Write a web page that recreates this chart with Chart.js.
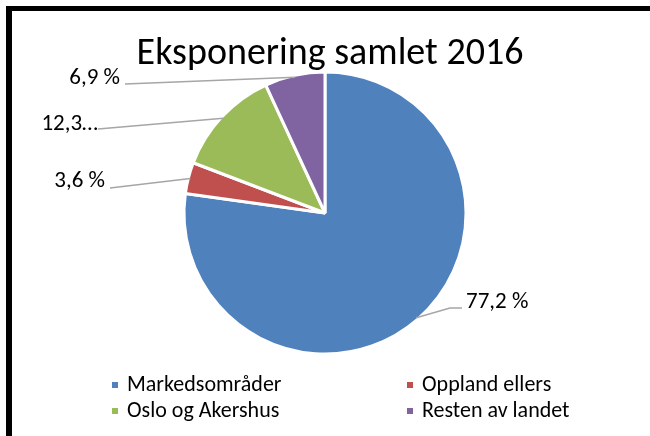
<!DOCTYPE html>
<html>
<head>
<meta charset="utf-8">
<script src="https://cdn.jsdelivr.net/npm/chart.js@4.4.0/dist/chart.umd.min.js"></script>
<style>
  html, body { margin: 0; padding: 0; background: #fff; }
  #wrap { width: 650px; height: 436px; }
</style>
</head>
<body>
<div id="wrap"><canvas id="chart" width="650" height="436"></canvas></div>
<script>
// Data
const categories = ["Markedsområder", "Oppland ellers", "Oslo og Akershus", "Resten av landet"];
const shares = [77.2, 3.6, 12.3, 6.9];
const shareLabels = ["77,2 %", "3,6 %", "12,3…", "6,9 %"];
const sliceColors = ["#4F81BD", "#C0504D", "#9BBB59", "#8064A2"];
const chartTitle = "Eksponering samlet 2016";

const FONT = "Carlito, Lato, sans-serif";

// label text anchor + where the leader line meets the text
const labelLayout = [
  { x: 466, y: 302, align: "left",  elbow: [450, 308], end: [462, 308] },
  { x: 105, y: 181, align: "right", end: [110, 188] },
  { x: 98,  y: 124, align: "right", end: [98, 129] },
  { x: 120, y: 78,  align: "right", end: [125, 84] },
];

// legend grid: two columns, two rows
const legendCols = [112, 407];
const legendRows = [385, 411];

const decorations = {
  id: "decorations",
  beforeDraw(chart) {
    const ctx = chart.ctx;
    ctx.save();
    ctx.fillStyle = "#000";
    ctx.fillRect(6, 6, 644, 5);
    ctx.fillRect(6, 6, 6, 430);
    ctx.restore();
  },
  afterDraw(chart) {
    const ctx = chart.ctx;
    const arcs = chart.getDatasetMeta(0).data;
    ctx.save();

    // title
    ctx.fillStyle = "#000";
    ctx.font = "38px " + FONT;
    ctx.textAlign = "center";
    ctx.textBaseline = "alphabetic";
    ctx.fillText(chartTitle, 330, 64);

    // data labels with leader lines
    ctx.font = "23px " + FONT;
    ctx.textBaseline = "middle";
    arcs.forEach((arc, i) => {
      const lay = labelLayout[i];
      const mid = (arc.startAngle + arc.endAngle) / 2;
      const r = arc.outerRadius - 2;
      const ax = arc.x + Math.cos(mid) * r;
      const ay = arc.y + Math.sin(mid) * r;
      ctx.strokeStyle = "#A6A6A6";
      ctx.lineWidth = 1.5;
      ctx.beginPath();
      ctx.moveTo(ax, ay);
      if (lay.elbow) ctx.lineTo(lay.elbow[0], lay.elbow[1]);
      ctx.lineTo(lay.end[0], lay.end[1]);
      ctx.stroke();
      ctx.textAlign = lay.align;
      ctx.fillStyle = "#000";
      ctx.fillText(shareLabels[i], lay.x, lay.y);
    });

    // legend
    ctx.font = "22px " + FONT;
    ctx.textAlign = "left";
    categories.forEach((name, i) => {
      const cx = legendCols[i % 2];
      const cy = legendRows[Math.floor(i / 2)];
      ctx.fillStyle = sliceColors[i];
      ctx.fillRect(cx, cy - 3, 6, 6);
      ctx.fillStyle = "#000";
      ctx.fillText(name, cx + 15, cy);
    });

    ctx.restore();
  }
};

new Chart(document.getElementById("chart"), {
  type: "pie",
  data: {
    labels: categories,
    datasets: [{
      data: shares,
      backgroundColor: sliceColors,
      borderColor: "#fff",
      borderWidth: 3
    }]
  },
  options: {
    responsive: false,
    animation: false,
    devicePixelRatio: 1,
    radius: 141,
    layout: { padding: { left: 0, right: 0, top: 60, bottom: 70 } },
    plugins: {
      legend: { display: false },
      title: { display: false },
      tooltip: { enabled: false }
    }
  },
  plugins: [decorations]
});
</script>
</body>
</html>
